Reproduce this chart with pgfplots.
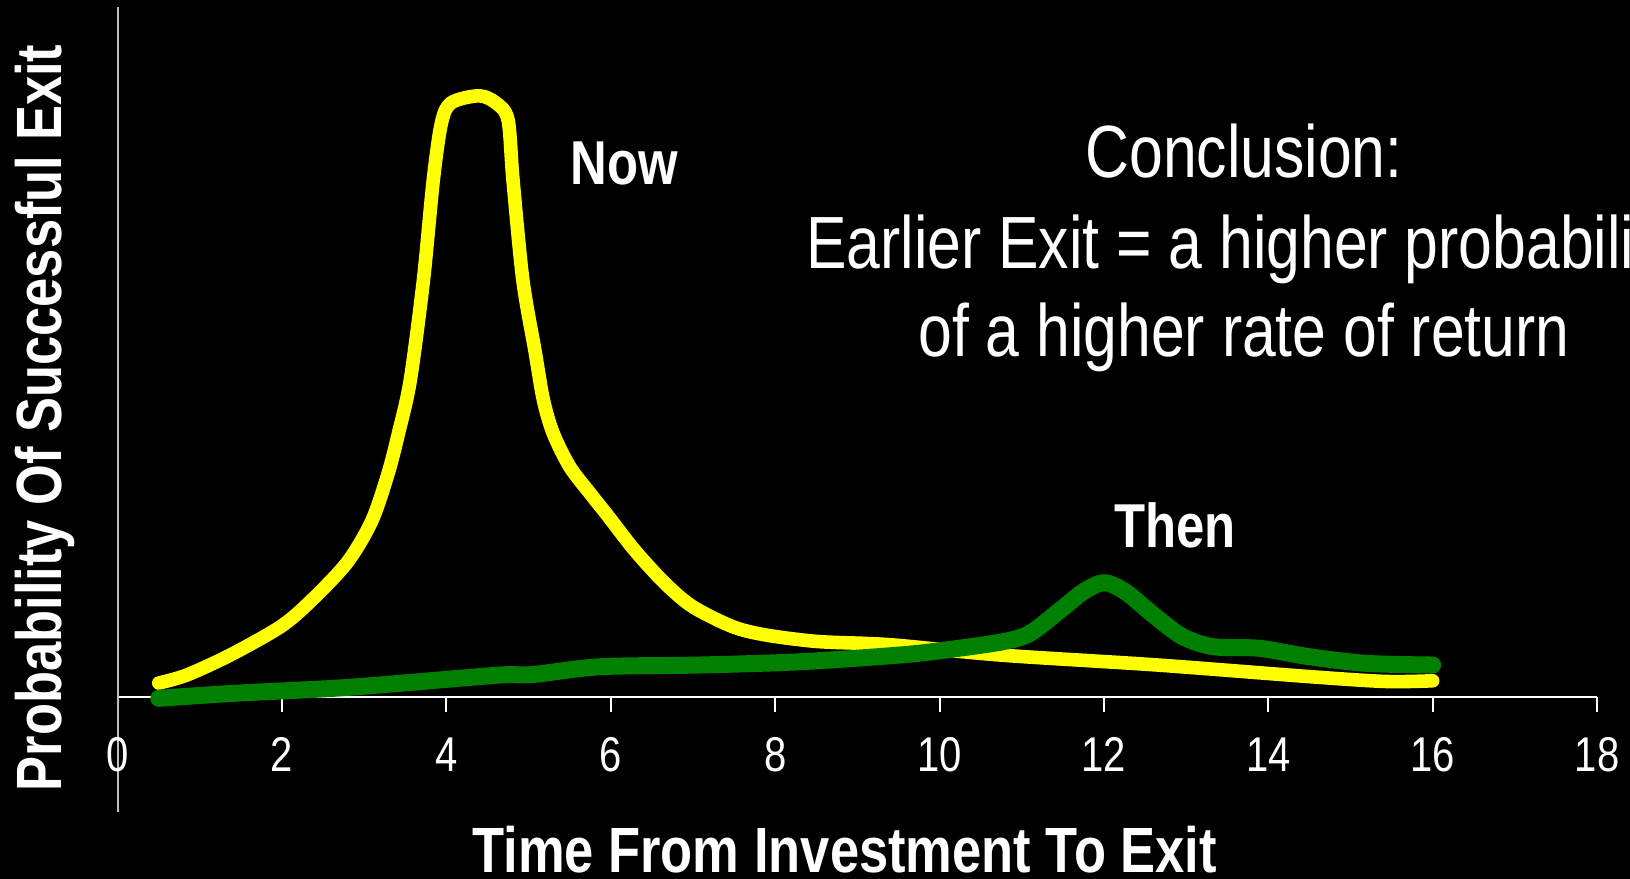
\documentclass[border=0pt]{standalone}
\usepackage{fontspec}
\setmainfont{Liberation Sans}[FakeStretch=0.82]
\usepackage{pgfplots}
\pgfplotsset{compat=1.18}
\definecolor{ylw}{RGB}{255,255,0}
\definecolor{grn}{RGB}{0,128,0}
\definecolor{yax}{RGB}{190,190,190}
\begin{document}
\begin{tikzpicture}
\useasboundingbox (0,0) rectangle (815pt,439.5pt);
\fill[black] (0,0) rectangle (815pt,439.5pt);
\clip (0,0) rectangle (815pt,439.5pt);
\begin{axis}[
  at={(58.85pt,33.5pt)}, anchor=south west,
  scale only axis, width=739.65pt, height=402.65pt,
  xmin=0, xmax=18, ymin=-16.6, ymax=100,
  axis lines=middle,
  axis line style={-},
  x axis line style={white, line width=1pt},
  y axis line style={yax, line width=1pt},
  xtick={0,2,...,18}, ytick=\empty,
  hide obscured x ticks=false,
  tick align=outside,
  major tick length=7.5pt,
  tick style={white, line width=1pt},
  x tick label style={font=\fontsize{24.4}{24.4}\selectfont, text=white, anchor=north, inner sep=0pt, yshift=-12.5pt},
  /pgf/number format/assume math mode=true,
  clip=false,
]
\addplot[ylw, line width=6.8pt, line cap=round, line join=round, smooth, tension=0.5] coordinates {
(0.5,2.07) (0.84,3.23) (1.37,6.13) (1.98,10.22) (2.34,13.84) (2.79,19.5) (3.09,25.5) (3.29,32.4)
(3.42,38.4) (3.56,45.9) (3.72,60.4) (3.84,74.9) (3.94,83.2) (4.06,86.1) (4.40,87.1) (4.61,86.0)
(4.75,83.6) (4.81,74.9) (4.93,60.4) (5.08,50.0) (5.18,43.05) (5.30,38.2) (5.50,33.4) (5.75,29.5)
(5.97,26.2) (6.29,21.3) (6.66,16.5) (7.00,13.1) (7.49,10.2) (7.90,9.0) (8.50,8.1) (9.11,7.8)
(9.52,7.5) (10.77,6.1) (12.63,4.7) (14.50,3.0) (15.43,2.3) (16.0,2.4)
};
\addplot[grn, line width=8.5pt, line cap=round, line join=round, smooth, tension=0.5] coordinates {
(0.5,-0.14) (1.41,0.58) (2.62,1.30) (3.43,2.03) (4.65,3.23) (5.05,3.30) (5.87,4.43) (7.08,4.68)
(8.30,5.15) (9.52,6.13) (10.07,6.85) (10.77,8.05) (11.10,9.27) (11.47,12.64) (11.75,15.29)
(12.00,16.59) (12.26,15.29) (12.63,11.67) (12.96,8.78) (13.33,7.33) (13.89,7.10) (14.50,5.88)
(15.19,4.92) (16.0,4.68)
};
\end{axis}
\node[white, anchor=base, font=\fontsize{32}{32}\bfseries\selectfont] at (422.3pt,3pt) {Time From Investment To Exit};
\node[white, anchor=base, rotate=90, font=\fontsize{32}{32}\bfseries\selectfont] at (30.85pt,230.5pt) {Probability Of Successful Exit};
\node[white, anchor=base, font=\fontsize{31}{31}\bfseries\selectfont] at (312pt,347pt) {Now};
\node[white, anchor=base, font=\fontsize{31}{31}\bfseries\selectfont] at (587.5pt,165.5pt) {Then};
\node[white, anchor=base, font=\fontsize{37}{37}\selectfont] at (622pt,350.5pt) {Conclusion:};
\node[white, anchor=base, font=\fontsize{37}{37}\selectfont] at (622pt,305pt) {Earlier Exit = a higher probability};
\node[white, anchor=base, font=\fontsize{37}{37}\selectfont] at (622pt,261pt) {of a higher rate of return};
\end{tikzpicture}
\end{document}
